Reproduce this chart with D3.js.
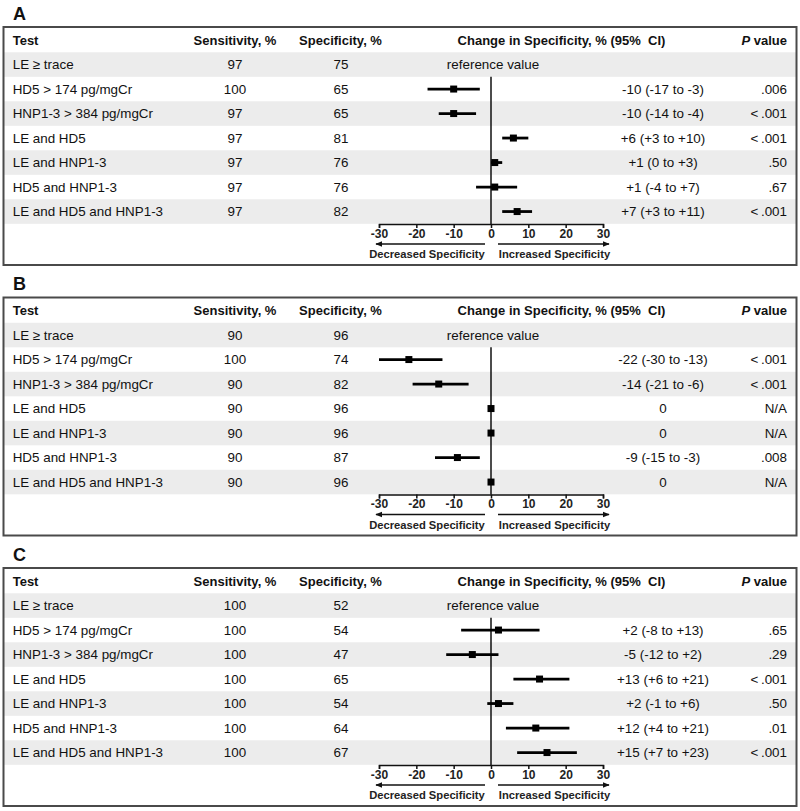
<!DOCTYPE html>
<html><head><meta charset="utf-8">
<script src="https://cdn.jsdelivr.net/npm/d3@7"></script>
<style>body{margin:0;background:#fff;} svg{display:block;font-family:"Liberation Sans",Arial,sans-serif;}</style>
</head><body><div id="chart"></div>
<script>
const panels = ["A","B","C"];
const tests = ["LE \u2265 trace","HD5 > 174 pg/mgCr","HNP1-3 > 384 pg/mgCr","LE and HD5","LE and HNP1-3","HD5 and HNP1-3","LE and HD5 and HNP1-3"];
const sensA = [97,100,97,97,97,97,97];
const specA = [75,65,65,81,76,76,82];
const estA = [null,-10,-10,6,1,1,7];
const lowA = [null,-17,-14,3,0,-4,3];
const highA = [null,-3,-4,10,3,7,11];
const labelA = ["reference value","-10 (-17 to -3)","-10 (-14 to -4)","+6 (+3 to +10)","+1 (0 to +3)","+1 (-4 to +7)","+7 (+3 to +11)"];
const pA = ["",".006","<.001","<.001",".50",".67","<.001"];

const sensB = [90,100,90,90,90,90,90];
const specB = [96,74,82,96,96,87,96];
const estB = [null,-22,-14,0,0,-9,0];
const lowB = [null,-30,-21,0,0,-15,0];
const highB = [null,-13,-6,0,0,-3,0];
const labelB = ["reference value","-22 (-30 to -13)","-14 (-21 to -6)","0","0","-9 (-15 to -3)","0"];
const pB = ["","<.001","<.001","N/A","N/A",".008","N/A"];

const sensC = [100,100,100,100,100,100,100];
const specC = [52,54,47,65,54,64,67];
const estC = [null,2,-5,13,2,12,15];
const lowC = [null,-8,-12,6,-1,4,7];
const highC = [null,13,2,21,6,21,23];
const labelC = ["reference value","+2 (-8 to +13)","-5 (-12 to +2)","+13 (+6 to +21)","+2 (-1 to +6)","+12 (+4 to +21)","+15 (+7 to +23)"];
const pC = ["",".65",".29","<.001",".50",".01","<.001"];

const axisTicks = [-30,-20,-10,0,10,20,30];
const data = [
  {sens:sensA,spec:specA,est:estA,low:lowA,high:highA,label:labelA,p:pA},
  {sens:sensB,spec:specB,est:estB,low:lowB,high:highB,label:labelB,p:pB},
  {sens:sensC,spec:specC,est:estC,low:lowC,high:highC,label:labelC,p:pC}
];

const W = 800, H = 811;
const svg = d3.select("#chart").append("svg").attr("width",W).attr("height",H);
const defs = svg.append("defs");
defs.append("marker").attr("id","arr").attr("viewBox","0 0 10 10").attr("refX",9).attr("refY",5)
  .attr("markerWidth",7).attr("markerHeight",7).attr("markerUnits","userSpaceOnUse").attr("orient","auto-start-reverse")
  .append("path").attr("d","M0,1 L10,5 L0,9 Z").attr("fill","#111");

const x = d3.scaleLinear().domain([-30,30]).range([379,603]);
const panelStep = 270.5;

panels.forEach((name,pi)=>{
  const d = data[pi];
  const off = pi*panelStep;
  const g = svg.append("g").attr("transform",`translate(0,${off})`);
  const y = d3.scaleBand().domain(tests).range([52.3, 52.3+7*24.5]).padding(0);

  g.append("text").attr("x",13).attr("y",19.5).attr("font-size",18).attr("font-weight","bold").attr("fill","#111").text(name);

  g.selectAll("rect.shade").data(tests.filter((t,i)=>i%2===0)).join("rect")
    .attr("x",4).attr("width",792).attr("y",t=>y(t)).attr("height",y.bandwidth()).attr("fill","#ececec");

  g.append("rect").attr("x",3.5).attr("y",27).attr("width",793).attr("height",238)
    .attr("fill","none").attr("stroke","#4a4a4a").attr("stroke-width",2);

  const hy = 44.5;
  const hdr = g.append("g").attr("font-size",13).attr("font-weight","bold").attr("fill","#111");
  hdr.append("text").attr("x",12.7).attr("y",hy).text("Test");
  hdr.append("text").attr("x",235).attr("y",hy).attr("text-anchor","middle").text("Sensitivity, %");
  hdr.append("text").attr("x",340.5).attr("y",hy).attr("text-anchor","middle").text("Specificity, %");
  hdr.append("text").attr("x",561.5).attr("y",hy).attr("text-anchor","middle").attr("xml:space","preserve").text("Change in Specificity, % (95%  CI)");
  const pv = hdr.append("text").attr("x",787).attr("y",hy).attr("text-anchor","end");
  pv.append("tspan").attr("font-style","italic").text("P");
  pv.append("tspan").text(" value");

  const rows = g.selectAll("g.row").data(tests).join("g").attr("font-size",13.4).attr("fill","#111");
  const cy = t => y(t)+y.bandwidth()/2+4.7;
  rows.append("text").attr("x",12.7).attr("y",t=>cy(t)).text(t=>t);
  rows.append("text").attr("x",235).attr("y",t=>cy(t)).attr("text-anchor","middle").text((t,i)=>d.sens[i]);
  rows.append("text").attr("x",341).attr("y",t=>cy(t)).attr("text-anchor","middle").text((t,i)=>d.spec[i]);
  rows.append("text").attr("x",(t,i)=>i===0?x(0)+2:663).attr("y",t=>cy(t)).attr("text-anchor","middle").text((t,i)=>d.label[i]);
  rows.append("text").attr("x",787).attr("y",t=>cy(t)).attr("text-anchor","end")
    .text((t,i)=>d.p[i].replace("<","<\u2009"));

  const axisY = 224;
  g.append("line").attr("x1",x(0)).attr("x2",x(0)).attr("y1",y(tests[1])).attr("y2",axisY)
    .attr("stroke","#111").attr("stroke-width",1.5);

  const pts = tests.map((t,i)=>({t,i})).filter(o=>d.est[o.i]!==null);
  g.selectAll("line.ci").data(pts).join("line")
    .attr("x1",o=>x(d.low[o.i])).attr("x2",o=>x(d.high[o.i]))
    .attr("y1",o=>y(o.t)+y.bandwidth()/2).attr("y2",o=>y(o.t)+y.bandwidth()/2)
    .attr("stroke","#000").attr("stroke-width",2.8);
  const s = 7;
  g.selectAll("rect.pt").data(pts).join("rect")
    .attr("x",o=>x(d.est[o.i])-s/2).attr("y",o=>y(o.t)+y.bandwidth()/2-s/2)
    .attr("width",s).attr("height",s).attr("fill","#000");

  const ax = g.append("g").attr("transform",`translate(0,${axisY})`)
    .call(d3.axisBottom(x).tickValues(axisTicks).tickSize(4).tickSizeOuter(4).tickPadding(1).tickFormat(d3.format("d")));
  ax.select(".domain").attr("stroke","#111").attr("stroke-width",1.5);
  ax.selectAll(".tick line").attr("stroke","#111").attr("stroke-width",1.5);
  ax.selectAll(".tick text").attr("font-size",12).attr("font-weight","bold").attr("fill","#222")
    .attr("font-family","'Liberation Sans',Arial,sans-serif").text(v=>v<0?"-"+Math.abs(v):v);

  g.append("line").attr("x1",485).attr("x2",376).attr("y1",244).attr("y2",244)
    .attr("stroke","#111").attr("stroke-width",1.3).attr("marker-end","url(#arr)");
  g.append("line").attr("x1",498).attr("x2",609).attr("y1",244).attr("y2",244)
    .attr("stroke","#111").attr("stroke-width",1.3).attr("marker-end","url(#arr)");
  g.append("text").attr("x",427).attr("y",258).attr("text-anchor","middle").attr("font-size",11.2)
    .attr("font-weight","bold").attr("fill","#222").text("Decreased Specificity");
  g.append("text").attr("x",554.5).attr("y",258).attr("text-anchor","middle").attr("font-size",11.2)
    .attr("font-weight","bold").attr("fill","#222").text("Increased Specificity");
});
</script></body></html>
